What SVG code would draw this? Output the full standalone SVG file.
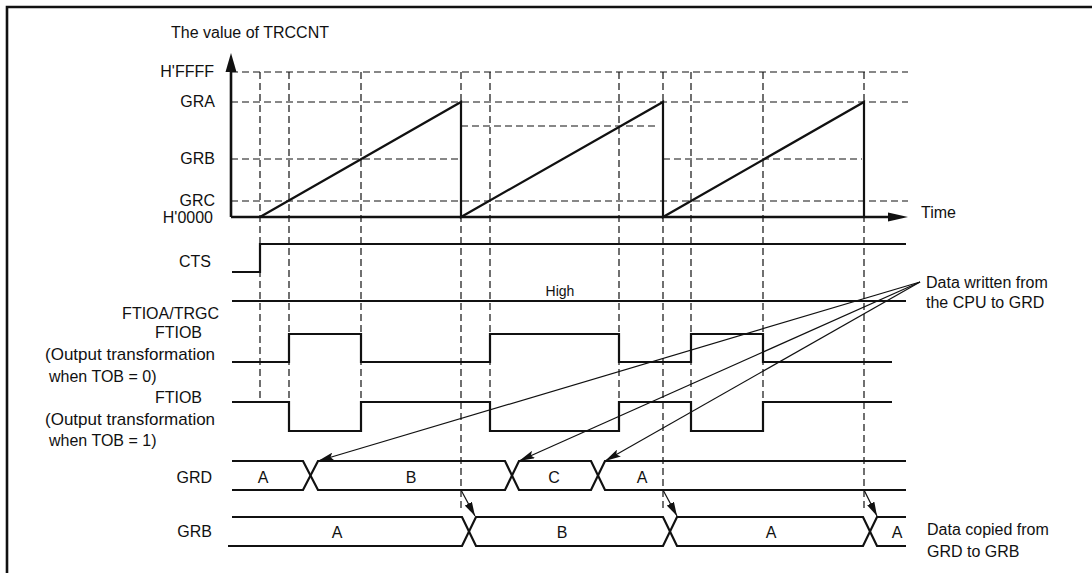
<svg xmlns="http://www.w3.org/2000/svg" width="1092" height="573" viewBox="0 0 1092 573">
<style>
text{font-family:"Liberation Sans",Arial,Helvetica,sans-serif;font-size:16px;fill:#111}
.end{text-anchor:end}
.mid{text-anchor:middle}
.wide{font-size:17px}
.sig{fill:none;stroke:#111;stroke-width:2.2}
.dash{fill:none;stroke:#111;stroke-width:1.2;stroke-dasharray:7 4}
.axis{fill:none;stroke:#111;stroke-width:2.6}
.con{fill:none;stroke:#111;stroke-width:1.2}
</style>
<defs>
<marker id="ah" viewBox="0 0 16 8" refX="16" refY="4" markerWidth="16" markerHeight="8" orient="auto" markerUnits="userSpaceOnUse">
<path d="M0,0 L16,4 L0,8 L3,4 z" fill="#111"/>
</marker>
<marker id="ah2" viewBox="0 0 14 8" refX="14" refY="4" markerWidth="14" markerHeight="8" orient="auto" markerUnits="userSpaceOnUse">
<path d="M0,0 L14,4 L0,8 z" fill="#111"/>
</marker>
</defs>
<rect width="1092" height="573" fill="#fff"/>
<path d="M7,573 V7 H1092" fill="none" stroke="#111" stroke-width="2.6"/>

<g id="grid">
<path class="dash" d="M231,72 H908 M231,102 H908 M231,159 H461 M663,159 H862 M461,126 H658 M231,201 H908"/>
<path class="dash" d="M260,72 V402 M289,72 V431 M361,72 V431 M461,72 V512 M490,72 V431 M619,72 V431 M663,72 V512 M691,72 V431 M763,72 V431 M864,72 V512"/>
</g>

<g id="axes">
<path class="axis" d="M231,217 V70 M231,217 H890"/>
<path d="M231,53 L236.5,72 L225.5,72 z" fill="#111"/>
<path d="M908,217 L888,212.5 L888,221.5 z" fill="#111"/>
<text x="250" y="38" class="mid">The value of TRCCNT</text>
<text x="921" y="218">Time</text>
</g>

<g id="levels">
<text x="214" y="77" class="end">H'FFFF</text>
<text x="215" y="107" class="end">GRA</text>
<text x="215" y="164" class="end">GRB</text>
<text x="215" y="206" class="end">GRC</text>
<text x="213" y="223" class="end">H'0000</text>
</g>

<g id="trccnt">
<path class="sig" d="M260,217 L461,102 V217 L663,102 V217 L864,102 V217"/>
</g>

<g id="cts">
<text x="211" y="267" class="end">CTS</text>
<path class="sig" d="M232,272 H260 V244 H906"/>
</g>

<g id="ftioa">
<text x="219" y="319" class="end">FTIOA/TRGC</text>
<path class="sig" d="M232,301 H906"/>
<text x="560" y="296" class="mid" style="font-size:14px">High</text>
</g>

<g id="ftiob0">
<text x="202" y="338" class="end">FTIOB</text>
<text x="45" y="360" class="wide">(Output transformation</text>
<text x="49" y="382">when TOB = 0)</text>
<path class="sig" d="M232,362 H289 V334 H361 V362 H490 V334 H619 V362 H691 V334 H763 V362 H892"/>
</g>

<g id="ftiob1">
<text x="202" y="403" class="end">FTIOB</text>
<text x="45" y="425" class="wide">(Output transformation</text>
<text x="49" y="446">when TOB = 1)</text>
<path class="sig" d="M232,402 H289 V431 H361 V402 H490 V431 H619 V402 H691 V431 H763 V402 H892"/>
</g>

<g id="grd">
<text x="212" y="483" class="end">GRD</text>
<path class="sig" d="M232,461 H303 L318,490 H505 L519,461 H591 L605,490 H906"/>
<path class="sig" d="M232,490 H303 L318,461 H505 L519,490 H591 L605,461 H906"/>
<text x="263" y="483" class="mid">A</text>
<text x="411" y="483" class="mid">B</text>
<text x="554" y="483" class="mid">C</text>
<text x="642" y="483" class="mid">A</text>
</g>

<g id="grb">
<text x="212" y="537" class="end">GRB</text>
<path class="sig" d="M232,517 H462 L476,546 H663 L677,517 H863 L877,546 H906"/>
<path class="sig" d="M228,546 H462 L476,517 H663 L677,546 H863 L877,517 H906"/>
<text x="337" y="538" class="mid">A</text>
<text x="562" y="538" class="mid">B</text>
<text x="771" y="538" class="mid">A</text>
<text x="897" y="538" class="mid">A</text>
</g>

<g id="note-written">
<text x="926" y="288">Data written from</text>
<text x="926" y="308">the CPU to GRD</text>
</g>

<g id="note-copied">
<text x="927" y="535">Data copied from</text>
<text x="927" y="557">GRD to GRB</text>
</g>

<g id="connectors">
<path class="con" d="M920,282 L318,461" marker-end="url(#ah)"/>
<path class="con" d="M920,282 L519,461" marker-end="url(#ah)"/>
<path class="con" d="M920,282 L605,461" marker-end="url(#ah)"/>
<path class="con" d="M461,490 L475,516" marker-end="url(#ah2)"/>
<path class="con" d="M663,490 L677,516" marker-end="url(#ah2)"/>
<path class="con" d="M864,490 L877,516" marker-end="url(#ah2)"/>
</g>
</svg>
